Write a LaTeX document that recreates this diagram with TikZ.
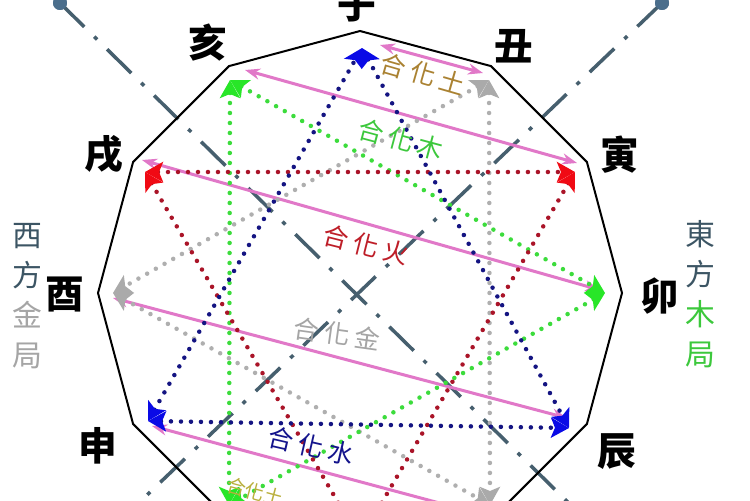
\documentclass[tikz,border=0pt]{standalone}
\usepackage{fontspec}
\newfontfamily\cjk{Noto Sans CJK TC}
\usetikzlibrary{arrows.meta}
\definecolor{slate}{RGB}{70,95,110}
\definecolor{slatedot}{RGB}{75,110,140}
\definecolor{pinkline}{RGB}{225,120,200}
\definecolor{pinkfill}{RGB}{240,170,225}
\definecolor{navydot}{RGB}{20,20,130}
\definecolor{bluetip}{RGB}{10,10,230}
\definecolor{reddot}{RGB}{170,20,40}
\definecolor{redtip}{RGB}{240,10,20}
\definecolor{greendot}{RGB}{60,220,60}
\definecolor{greentip}{RGB}{40,230,40}
\definecolor{graydot}{RGB}{175,175,175}
\definecolor{graytip}{RGB}{170,170,170}
\definecolor{goldtext}{RGB}{170,130,50}
\definecolor{greentext}{RGB}{60,200,60}
\definecolor{redtext}{RGB}{190,30,40}
\definecolor{graytext}{RGB}{165,165,165}
\definecolor{navytext}{RGB}{20,20,140}
\definecolor{sidedark}{RGB}{60,85,100}
\definecolor{yellowtext}{RGB}{185,175,60}
\tikzset{
  axisline/.style={draw=slate, line width=0.07cm, dash pattern=on 0.68cm off 0.28cm on 0.08cm off 0.28cm},
  axisend/.style={circle, fill=slatedot, minimum size=0.28cm, inner sep=0pt},
  poly/.style={draw=black, line width=0.04cm, line join=miter},
  liuhe/.style={draw=pinkline, line width=0.06cm,
    {Stealth[length=0.3cm,width=0.22cm,fill=pinkfill]}-{Stealth[length=0.3cm,width=0.22cm,fill=pinkfill]}},
  sanhe/.style={line width=0.09cm, line cap=round, dash pattern=on 0pt off 0.2cm},
  bluetri/.style={sanhe, draw=navydot, {Stealth[length=0.36cm,width=0.4cm,inset=0.08cm,color=bluetip]}-{Stealth[length=0.36cm,width=0.4cm,inset=0.08cm,color=bluetip]}},
  redtri/.style={sanhe, draw=reddot, {Stealth[length=0.36cm,width=0.4cm,inset=0.08cm,color=redtip]}-{Stealth[length=0.36cm,width=0.4cm,inset=0.08cm,color=redtip]}},
  greentri/.style={sanhe, draw=greendot, {Stealth[length=0.36cm,width=0.4cm,inset=0.08cm,color=greentip]}-{Stealth[length=0.36cm,width=0.4cm,inset=0.08cm,color=greentip]}},
  graytri/.style={sanhe, draw=graydot, {Stealth[length=0.36cm,width=0.4cm,inset=0.08cm,color=graytip]}-{Stealth[length=0.36cm,width=0.4cm,inset=0.08cm,color=graytip]}},
  branch/.style={font=\cjk\bfseries\fontsize{22}{22}\selectfont, inner sep=0pt, text=black},
  hehua/.style={font=\cjk\fontsize{14.5}{14.5}\selectfont, inner sep=0pt},
  side/.style={font=\cjk\fontsize{17}{22.7}\selectfont, inner sep=0pt, align=center}
}
\begin{document}
\begin{tikzpicture}[x=0.02cm,y=-0.02cm]
\clip (0,0) rectangle (750,500);
\fill[white] (0,0) rectangle (750,500);

% dash-dot axes
\node[axisend] (ea) at (60,3) {};
\node[axisend] (eb) at (662,3) {};
\coordinate (ea2) at (760,691);
\coordinate (eb2) at (-10,645);
\draw[axisline] (ea.center) -- (ea2);
\draw[axisline] (eb.center) -- (eb2);
\node[axisend] at (ea) {};
\node[axisend] at (eb) {};

% dodecagon
\foreach \i in {0,...,11} {
  \path (360,293) ++(30*\i-90:262) coordinate (v\i);
}
\draw[poly] (v0) -- (v1) -- (v2) -- (v3) -- (v4) -- (v5) -- (v6) -- (v7) -- (v8) -- (v9) -- (v10) -- (v11) -- cycle;

% marker points
\coordinate (mzi) at (362,48);
\coordinate (mchou) at (489,80);
\coordinate (myin) at (575,172);
\coordinate (mmao) at (605,293);
\coordinate (mchen) at (569,428);
\coordinate (msi) at (490,505);
\coordinate (mwu) at (360,540);
\coordinate (mwei) at (229,505);
\coordinate (mshen) at (148,421);
\coordinate (myou) at (113,293);
\coordinate (mxu) at (145,172);
\coordinate (mhai) at (230,80);

% liuhe pink pairs
\coordinate (pa1) at (380,45);  \coordinate (pa2) at (483,73);
\coordinate (pb1) at (245,70);  \coordinate (pb2) at (577,163);
\coordinate (pc1) at (142,160); \coordinate (pc2) at (600,290);
\coordinate (pd1) at (113,298); \coordinate (pd2) at (567,418);
\coordinate (pe1) at (152,426); \coordinate (pe2) at (488,516);
\coordinate (pf1) at (232,505); \coordinate (pf2) at (365,541);
\draw[liuhe] (pa1) -- (pa2);
\draw[liuhe] (pb1) -- (pb2);
\draw[liuhe] (pc1) -- (pc2);
\draw[liuhe] (pd1) -- (pd2);
\draw[liuhe] (pe1) -- (pe2);
\draw[liuhe] (pf1) -- (pf2);

% sanhe triangles
\draw[graytri] (mchou) -- (myou);
\draw[graytri] (mchou) -- (msi);
\draw[graytri] (myou) -- (msi);
\draw[greentri] (mhai) -- (mmao);
\draw[greentri] (mhai) -- (mwei);
\draw[greentri] (mmao) -- (mwei);
\draw[redtri] (mxu) -- (myin);
\draw[redtri] (mxu) -- (mwu);
\draw[redtri] (myin) -- (mwu);
\draw[bluetri] (mshen) -- (mzi);
\draw[bluetri] (mzi) -- (mchen);
\draw[bluetri] (mshen) -- (mchen);

% inner labels
\node[hehua, text=goldtext, rotate=-16] (ltu) at (423,74) {合\hspace{3pt}化\hspace{3pt}土};
\node[hehua, text=greentext, rotate=-15] (lmu) at (401,139) {合\hspace{3pt}化\hspace{3pt}木};
\node[hehua, text=redtext, rotate=-14] (lhuo) at (366,245) {合\hspace{3pt}化\hspace{3pt}火};
\node[hehua, text=graytext, rotate=-8] (ljin) at (337,334) {合\hspace{3pt}化\hspace{3pt}金};
\node[hehua, text=navytext, rotate=-13] (lshui) at (311,446) {合\hspace{3pt}化\hspace{3pt}水};
\node[hehua, text=yellowtext, rotate=-15, font=\cjk\fontsize{11}{11}\selectfont] (ltu2) at (255,492) {合化土};

% branch labels
\node[branch] (zi) at (357,5) {子};
\node[branch] (chou) at (514,46) {丑};
\node[branch] (yin) at (620,155) {寅};
\node[branch] (mao) at (660,296) {卯};
\node[branch] (chen) at (617,452) {辰};
\node[branch] (shen) at (98,446) {申};
\node[branch] (you) at (65,295) {酉};
\node[branch] (xu) at (104,154) {戌};
\node[branch] (hai) at (208,43) {亥};

% side labels
\node[side] (west) at (27,296) {\textcolor{sidedark}{西}\\\textcolor{sidedark}{方}\\\textcolor{graytext}{金}\\\textcolor{graytext}{局}};
\node[side] (east) at (700,294) {\textcolor{sidedark}{東}\\\textcolor{sidedark}{方}\\\textcolor{greentext}{木}\\\textcolor{greentext}{局}};
\end{tikzpicture}
\end{document}
